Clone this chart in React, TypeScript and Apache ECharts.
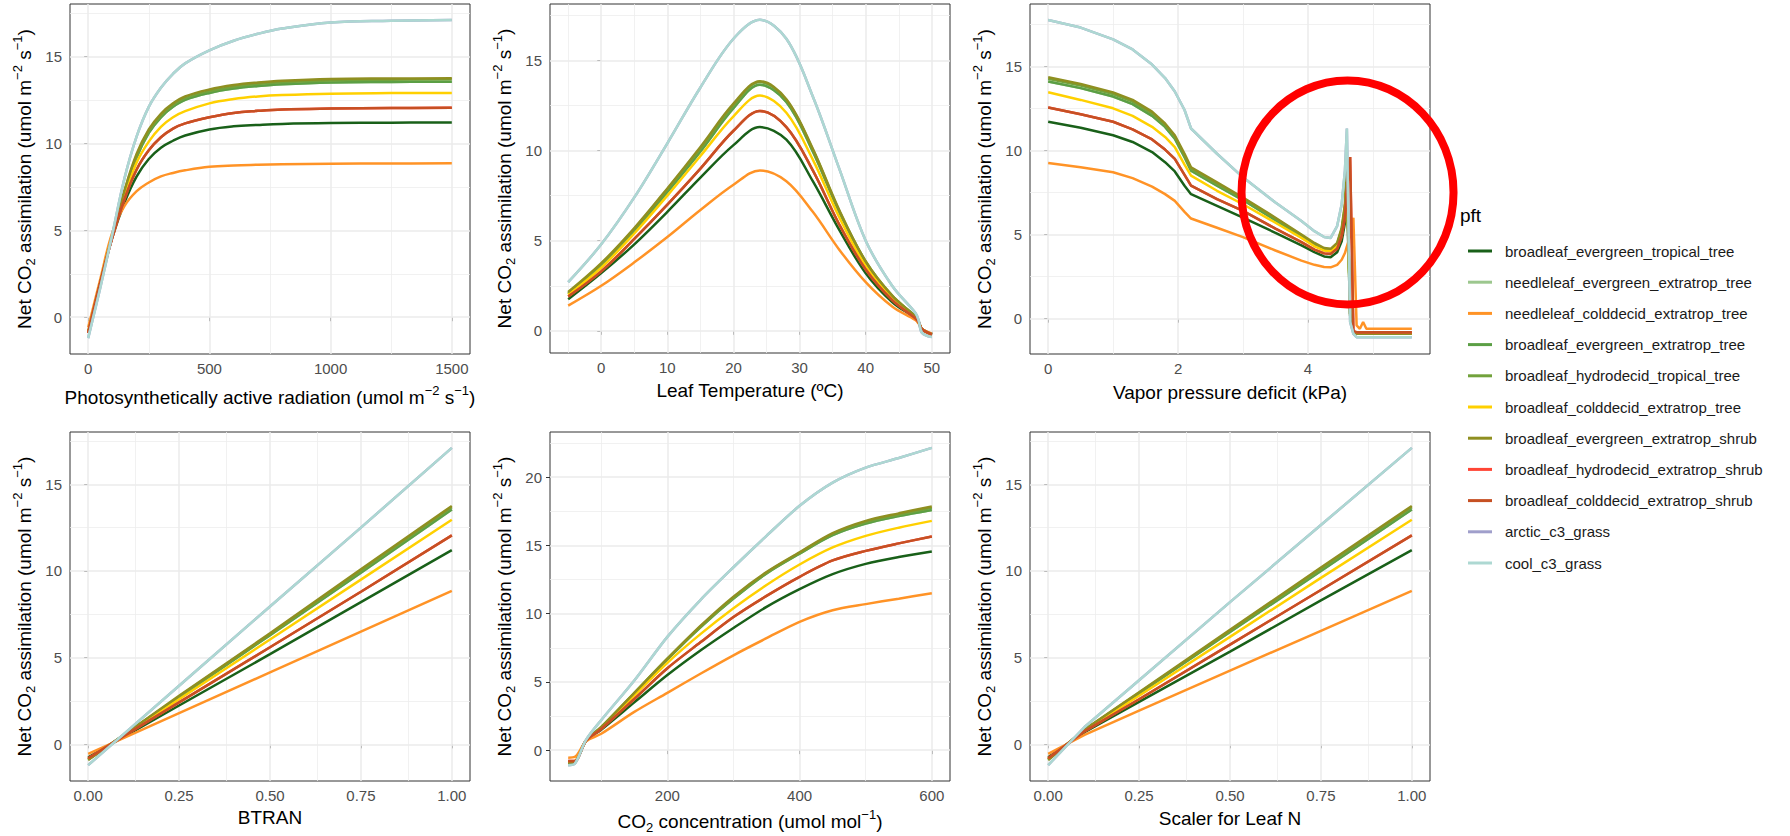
import React, { useEffect, useRef } from "react";
import * as echarts from "echarts";

const FONT = "'Liberation Sans', Arial, Helvetica, sans-serif";

// ---- PFT names and colours (legend order = drawing order) ----
const pftNames = [
  "broadleaf_evergreen_tropical_tree",
  "needleleaf_evergreen_extratrop_tree",
  "needleleaf_colddecid_extratrop_tree",
  "broadleaf_evergreen_extratrop_tree",
  "broadleaf_hydrodecid_tropical_tree",
  "broadleaf_colddecid_extratrop_tree",
  "broadleaf_evergreen_extratrop_shrub",
  "broadleaf_hydrodecid_extratrop_shrub",
  "broadleaf_colddecid_extratrop_shrub",
  "arctic_c3_grass",
  "cool_c3_grass",
];
const pftColors = [
  "#196019", "#9CC78E", "#FF9326", "#5B9F45", "#72A23C", "#FFD000",
  "#8F8F20", "#FF4535", "#C65023", "#A09FCB", "#ADD8D2",
];

// ---- Panel 1: PAR ----
const parX = [0, 50, 100, 150, 200, 250, 300, 350, 400, 500, 600, 700, 800, 1000, 1250, 1500];
const parA = [-0.9, 2.0, 4.6, 6.6, 8.1, 9.1, 9.75, 10.15, 10.45, 10.8, 10.98, 11.06, 11.12, 11.17, 11.19, 11.2];
const parB = [-0.88, 2.0, 4.7, 7.2, 9.2, 10.6, 11.5, 12.1, 12.5, 12.9, 13.15, 13.3, 13.4, 13.5, 13.53, 13.55];
const parC = [-0.6, 2.2, 4.9, 6.4, 7.25, 7.75, 8.1, 8.3, 8.45, 8.65, 8.73, 8.77, 8.8, 8.83, 8.84, 8.85];
const parD = [-0.88, 2.0, 4.7, 7.2, 9.2, 10.6, 11.5, 12.1, 12.5, 12.9, 13.15, 13.3, 13.4, 13.5, 13.53, 13.55];
const parE = [-0.9, 2.0, 4.7, 7.25, 9.3, 10.7, 11.6, 12.2, 12.6, 13.0, 13.25, 13.42, 13.52, 13.62, 13.66, 13.68];
const parF = [-0.9, 2.0, 4.7, 7.0, 8.9, 10.1, 10.95, 11.5, 11.85, 12.3, 12.55, 12.7, 12.78, 12.86, 12.89, 12.9];
const parG = [-0.9, 2.0, 4.7, 7.3, 9.4, 10.8, 11.7, 12.3, 12.7, 13.1, 13.35, 13.5, 13.6, 13.7, 13.73, 13.75];
const parH = [-0.9, 2.0, 4.6, 6.8, 8.5, 9.6, 10.35, 10.85, 11.15, 11.5, 11.75, 11.87, 11.95, 12.0, 12.03, 12.05];
const parI = [-0.9, 2.0, 4.6, 6.8, 8.5, 9.6, 10.35, 10.85, 11.15, 11.5, 11.75, 11.87, 11.95, 12.0, 12.03, 12.05];
const parJ = [-1.2, 1.7, 4.8, 8.0, 10.4, 12.1, 13.2, 14.0, 14.6, 15.35, 15.9, 16.3, 16.6, 16.95, 17.05, 17.1];
const parK = [-1.2, 1.7, 4.8, 8.0, 10.4, 12.1, 13.2, 14.0, 14.6, 15.35, 15.9, 16.3, 16.6, 16.95, 17.05, 17.1];

// ---- Panel 2: Leaf temperature ----
const tX = [-5, 0, 5, 10, 15, 20, 24, 28, 32, 36, 40, 44, 47.5, 48, 48.5, 50];
const tA = [1.75, 3.2, 4.8, 6.6, 8.5, 10.3, 11.3, 10.6, 8.3, 5.6, 3.2, 1.6, 0.7, 0.45, 0.1, -0.2];
const tB = [2.05, 3.65, 5.55, 7.7, 9.95, 12.35, 13.65, 12.7, 9.95, 6.6, 3.8, 1.9, 0.8, 0.5, 0.1, -0.2];
const tC = [1.4, 2.5, 3.8, 5.2, 6.7, 8.1, 8.9, 8.3, 6.6, 4.5, 2.7, 1.35, 0.6, 0.4, 0.1, -0.15];
const tD = [2.05, 3.65, 5.55, 7.7, 9.95, 12.35, 13.65, 12.7, 9.95, 6.6, 3.8, 1.9, 0.8, 0.5, 0.1, -0.2];
const tE = [2.1, 3.7, 5.65, 7.85, 10.1, 12.5, 13.8, 12.8, 10.05, 6.65, 3.85, 1.95, 0.8, 0.5, 0.1, -0.2];
const tF = [2.0, 3.5, 5.4, 7.5, 9.7, 11.9, 13.05, 12.1, 9.5, 6.3, 3.6, 1.8, 0.75, 0.5, 0.1, -0.2];
const tG = [2.15, 3.75, 5.7, 7.9, 10.2, 12.6, 13.85, 12.85, 10.1, 6.7, 3.85, 1.95, 0.8, 0.5, 0.1, -0.2];
const tH = [1.9, 3.3, 5.1, 7.0, 9.0, 11.1, 12.2, 11.3, 8.9, 5.9, 3.4, 1.7, 0.7, 0.5, 0.1, -0.2];
const tI = [1.9, 3.3, 5.1, 7.0, 9.0, 11.1, 12.2, 11.3, 8.9, 5.9, 3.4, 1.7, 0.7, 0.5, 0.1, -0.2];
const tJ = [2.7, 4.8, 7.4, 10.4, 13.5, 16.2, 17.25, 16.2, 13.0, 9.0, 5.0, 2.5, 1.0, 0.6, -0.1, -0.35];
const tK = [2.7, 4.8, 7.4, 10.4, 13.5, 16.2, 17.25, 16.2, 13.0, 9.0, 5.0, 2.5, 1.0, 0.6, -0.1, -0.35];

// ---- Panel 3: Vapor pressure deficit ----
const vX = [0, 0.5, 1, 1.3, 1.6, 1.8, 1.95, 2.1, 2.2, 2.6, 3.0, 3.5, 3.9, 4.1, 4.25, 4.35, 4.45, 4.52, 4.57, 4.6, 4.65, 4.7, 4.75, 4.8, 4.85, 4.9, 5.6];
const vA = [11.7, 11.35, 10.9, 10.5, 9.9, 9.3, 8.75, 7.9, 7.4, 6.7, 6.0, 5.1, 4.35, 3.95, 3.7, 3.65, 3.95, 4.6, 5.7, 7.4, 0.2, -0.8, -0.9, -0.9, -0.9, -0.9, -0.9];
const vB = [14.1, 13.7, 13.2, 12.75, 12.05, 11.4, 10.7, 9.6, 8.8, 7.9, 7.05, 5.85, 4.9, 4.4, 4.1, 4.0, 4.35, 5.2, 6.5, 8.6, 0.3, -0.8, -0.9, -0.9, -0.9, -0.9, -0.9];
const vC = [9.25, 9.0, 8.7, 8.35, 7.85, 7.4, 7.0, 6.35, 5.95, 5.4, 4.85, 4.05, 3.45, 3.2, 3.07, 3.05, 3.2, 3.5, 3.9, 4.3, 4.9, 6.0, -0.4, -0.6, -0.2, -0.6, -0.6];
const vD = [14.1, 13.7, 13.2, 12.75, 12.05, 11.4, 10.7, 9.6, 8.8, 7.9, 7.05, 5.85, 4.9, 4.4, 4.1, 4.0, 4.35, 5.2, 6.5, 8.6, 0.3, -0.8, -0.9, -0.9, -0.9, -0.9, -0.9];
const vE = [14.25, 13.85, 13.35, 12.9, 12.2, 11.5, 10.8, 9.7, 8.9, 8.0, 7.15, 5.95, 4.95, 4.45, 4.15, 4.1, 4.45, 5.3, 6.65, 8.8, 0.3, -0.8, -0.9, -0.9, -0.9, -0.9, -0.9];
const vF = [13.45, 13.0, 12.5, 12.05, 11.4, 10.8, 10.2, 9.15, 8.5, 7.6, 6.8, 5.7, 4.8, 4.3, 4.05, 4.0, 4.3, 5.1, 6.4, 8.3, 0.2, -0.8, -0.9, -0.9, -0.9, -0.9, -0.9];
const vG = [14.35, 13.95, 13.45, 13.0, 12.3, 11.6, 10.9, 9.8, 9.0, 8.1, 7.2, 6.0, 5.0, 4.5, 4.2, 4.15, 4.5, 5.4, 6.8, 8.9, 0.3, -0.8, -0.9, -0.9, -0.9, -0.9, -0.9];
const vH = [12.55, 12.15, 11.7, 11.25, 10.65, 10.05, 9.5, 8.55, 7.9, 7.1, 6.4, 5.35, 4.55, 4.1, 3.88, 3.85, 4.15, 4.9, 6.0, 7.6, 9.6, -0.75, -0.8, -0.8, -0.8, -0.8, -0.8];
const vI = [12.55, 12.15, 11.7, 11.25, 10.65, 10.05, 9.5, 8.55, 7.9, 7.1, 6.4, 5.35, 4.55, 4.1, 3.88, 3.85, 4.15, 4.9, 6.0, 7.6, 9.6, -0.75, -0.8, -0.8, -0.8, -0.8, -0.8];
const vJ = [17.75, 17.3, 16.6, 16.0, 15.1, 14.3, 13.5, 12.4, 11.3, 9.8, 8.4, 6.9, 5.8, 5.2, 4.85, 4.8, 5.5, 6.8, 8.8, 11.3, -0.2, -0.9, -1.1, -1.1, -1.1, -1.1, -1.1];
const vK = [17.75, 17.3, 16.6, 16.0, 15.1, 14.3, 13.5, 12.4, 11.3, 9.8, 8.4, 6.9, 5.8, 5.2, 4.85, 4.8, 5.5, 6.8, 8.8, 11.3, -0.2, -0.9, -1.1, -1.1, -1.1, -1.1, -1.1];

// ---- Panel 4: BTRAN ----
const bX = [0, 0.1, 0.25, 0.5, 0.75, 1];
const bA = [-0.75, 0.45, 2.24, 5.2, 8.2, 11.2];
const bB = [-0.88, 0.56, 2.72, 6.3, 9.9, 13.55];
const bC = [-0.55, 0.39, 1.8, 4.15, 6.5, 8.85];
const bD = [-0.88, 0.56, 2.72, 6.3, 9.9, 13.55];
const bE = [-0.88, 0.57, 2.75, 6.35, 10.0, 13.68];
const bF = [-0.85, 0.53, 2.6, 6.05, 9.5, 12.95];
const bG = [-0.9, 0.57, 2.8, 6.4, 10.1, 13.75];
const bH = [-0.8, 0.5, 2.42, 5.6, 8.8, 12.05];
const bI = [-0.8, 0.5, 2.42, 5.6, 8.8, 12.05];
const bJ = [-1.2, 0.63, 3.38, 7.95, 12.5, 17.1];
const bK = [-1.2, 0.63, 3.38, 7.95, 12.5, 17.1];

// ---- Panel 5: CO2 concentration ----
const cX = [50, 60, 77, 100, 150, 200, 250, 300, 350, 400, 450, 500, 550, 600];
const cA = [-0.9, -0.85, 0.7, 1.5, 3.5, 5.5, 7.3, 8.95, 10.5, 11.8, 12.9, 13.65, 14.15, 14.55];
const cB = [-0.88, -0.85, 0.7, 1.65, 4.15, 6.65, 9.0, 11.1, 12.95, 14.4, 15.75, 16.6, 17.15, 17.6];
const cC = [-0.55, -0.5, 0.65, 1.2, 2.8, 4.2, 5.6, 6.95, 8.2, 9.4, 10.25, 10.7, 11.1, 11.5];
const cD = [-0.88, -0.85, 0.7, 1.65, 4.15, 6.65, 9.0, 11.1, 12.95, 14.4, 15.75, 16.6, 17.15, 17.6];
const cE = [-0.88, -0.85, 0.7, 1.68, 4.18, 6.7, 9.05, 11.15, 13.0, 14.45, 15.85, 16.7, 17.25, 17.75];
const cF = [-0.85, -0.8, 0.7, 1.6, 4.0, 6.4, 8.5, 10.4, 12.1, 13.6, 14.85, 15.7, 16.3, 16.8];
const cG = [-0.9, -0.85, 0.7, 1.7, 4.2, 6.7, 9.1, 11.25, 13.05, 14.5, 15.9, 16.8, 17.35, 17.85];
const cH = [-0.8, -0.8, 0.7, 1.55, 3.75, 6.0, 7.9, 9.75, 11.3, 12.7, 13.9, 14.6, 15.15, 15.65];
const cI = [-0.8, -0.8, 0.7, 1.55, 3.75, 6.0, 7.9, 9.75, 11.3, 12.7, 13.9, 14.6, 15.15, 15.65];
const cJ = [-1.1, -1.0, 0.75, 2.2, 5.1, 8.3, 11.0, 13.4, 15.7, 17.9, 19.6, 20.7, 21.4, 22.15];
const cK = [-1.1, -1.0, 0.75, 2.2, 5.1, 8.3, 11.0, 13.4, 15.7, 17.9, 19.6, 20.7, 21.4, 22.15];

// ---- Panel 6: Scaler for Leaf N ----
const nX = [0, 0.1, 0.25, 0.5, 0.75, 1];
const nA = [-0.75, 0.7, 2.45, 5.35, 8.3, 11.2];
const nB = [-0.88, 0.83, 2.93, 6.48, 10.0, 13.55];
const nC = [-0.55, 0.55, 1.95, 4.25, 6.55, 8.85];
const nD = [-0.88, 0.83, 2.93, 6.48, 10.0, 13.55];
const nE = [-0.88, 0.84, 2.97, 6.55, 10.1, 13.68];
const nF = [-0.85, 0.8, 2.8, 6.2, 9.6, 12.95];
const nG = [-0.9, 0.85, 3.0, 6.6, 10.2, 13.75];
const nH = [-0.8, 0.75, 2.6, 5.75, 8.9, 12.05];
const nI = [-0.8, 0.75, 2.6, 5.75, 8.9, 12.05];
const nJ = [-1.2, 1.0, 3.7, 8.2, 12.65, 17.1];
const nK = [-1.2, 1.0, 3.7, 8.2, 12.65, 17.1];

// ---- Tick / grid-line values ----
const parTicks = [0, 500, 1000, 1500];
const parMinor = [250, 750, 1250];
const tTicks = [0, 10, 20, 30, 40, 50];
const tMinor = [-5, 5, 15, 25, 35, 45];
const vTicks = [0, 2, 4];
const vMinor = [1, 3, 5];
const fracTicks = [0, 0.25, 0.5, 0.75, 1];
const fracMinor = [0.125, 0.375, 0.625, 0.875];
const cTicks = [200, 400, 600];
const cMinor = [100, 300, 500];
const yTicks = [0, 5, 10, 15];
const yMinor = [2.5, 7.5, 12.5, 17.5];
const yTicksCO2 = [0, 5, 10, 15, 20];
const yMinorCO2 = [2.5, 7.5, 12.5, 17.5, 22.5];

const Y_NAME = "{a|Net CO}{b|2}{a| assimilation (umol m}{p|\u22122}{a| s}{p|\u22121}{a|)}";

const RICH = {
  a: { fontSize: 19, lineHeight: 26, color: "#000", fontFamily: FONT },
  b: { fontSize: 13, lineHeight: 14, verticalAlign: "bottom", color: "#000", fontFamily: FONT },
  p: { fontSize: 13, lineHeight: 14, verticalAlign: "top", color: "#000", fontFamily: FONT },
};

const panels = [
  {
    grid: { left: 70, top: 4, width: 400, height: 350 },
    x: parX, ys: [parA, parB, parC, parD, parE, parF, parG, parH, parI, parJ, parK],
    xMin: -75, xMax: 1575, yMin: -2.115, yMax: 18.015,
    xTicks: parTicks, xMinor: parMinor, yTicks: yTicks, yMinor: yMinor,
    xName: "{a|Photosynthetically active radiation (umol m}{p|\u22122}{a| s}{p|\u22121}{a|)}",
    xGap: 30, smooth: 0.4, fmt: (v: number) => String(v),
  },
  {
    grid: { left: 550, top: 4, width: 400, height: 349 },
    x: tX, ys: [tA, tB, tC, tD, tE, tF, tG, tH, tI, tJ, tK],
    xMin: -7.75, xMax: 52.75, yMin: -1.23, yMax: 18.13,
    xTicks: tTicks, xMinor: tMinor, yTicks: yTicks, yMinor: yMinor,
    xName: "{a|Leaf Temperature (\u00BAC)}",
    xGap: 24, smooth: 0.35, fmt: (v: number) => String(v),
  },
  {
    grid: { left: 1030, top: 4, width: 400, height: 350 },
    x: vX, ys: [vA, vB, vC, vD, vE, vF, vG, vH, vI, vJ, vK],
    xMin: -0.28, xMax: 5.88, yMin: -2.1, yMax: 18.7,
    xTicks: vTicks, xMinor: vMinor, yTicks: yTicks, yMinor: yMinor,
    xName: "{a|Vapor pressure deficit (kPa)}",
    xGap: 25, smooth: false, fmt: (v: number) => String(v),
  },
  {
    grid: { left: 70, top: 432, width: 400, height: 349 },
    x: bX, ys: [bA, bB, bC, bD, bE, bF, bG, bH, bI, bJ, bK],
    xMin: -0.05, xMax: 1.05, yMin: -2.115, yMax: 18.015,
    xTicks: fracTicks, xMinor: fracMinor, yTicks: yTicks, yMinor: yMinor,
    xName: "{a|BTRAN}",
    xGap: 23, smooth: false, fmt: (v: number) => v.toFixed(2),
  },
  {
    grid: { left: 550, top: 432, width: 400, height: 349 },
    x: cX, ys: [cA, cB, cC, cD, cE, cF, cG, cH, cI, cJ, cK],
    xMin: 22.5, xMax: 627.5, yMin: -2.26, yMax: 23.31,
    xTicks: cTicks, xMinor: cMinor, yTicks: yTicksCO2, yMinor: yMinorCO2,
    xName: "{a|CO}{b|2}{a| concentration (umol mol}{p|\u22121}{a|)}",
    xGap: 27, smooth: 0.3, fmt: (v: number) => String(v),
  },
  {
    grid: { left: 1030, top: 432, width: 400, height: 349 },
    x: nX, ys: [nA, nB, nC, nD, nE, nF, nG, nH, nI, nJ, nK],
    xMin: -0.05, xMax: 1.05, yMin: -2.115, yMax: 18.015,
    xTicks: fracTicks, xMinor: fracMinor, yTicks: yTicks, yMinor: yMinor,
    xName: "{a|Scaler for Leaf N}",
    xGap: 24, smooth: false, fmt: (v: number) => v.toFixed(2),
  },
];

function buildOption() {
  const grid: any[] = [];
  const xAxis: any[] = [];
  const yAxis: any[] = [];
  const series: any[] = [];
  const major = { color: "#EBEBEB", width: 1.5, type: "solid" };
  const minor = { color: "#EDEDED", width: 0.8, type: "solid" };

  panels.forEach((p, i) => {
    grid.push({ ...p.grid, show: true, borderColor: "#333333", borderWidth: 1, backgroundColor: "transparent", containLabel: false });
    xAxis.push({
      type: "value", gridIndex: i, min: p.xMin, max: p.xMax,
      axisLine: { show: false },
      axisTick: { show: true, customValues: p.xTicks, length: 4, lineStyle: { color: "#333333", width: 1 } },
      axisLabel: { customValues: p.xTicks, fontSize: 15, color: "#4D4D4D", margin: 7, fontFamily: FONT, formatter: p.fmt },
      splitLine: { show: false },
      name: p.xName, nameLocation: "middle", nameGap: p.xGap,
      nameTextStyle: { fontSize: 19, lineHeight: 26, color: "#000", fontFamily: FONT, rich: RICH },
    });
    yAxis.push({
      type: "value", gridIndex: i, min: p.yMin, max: p.yMax,
      axisLine: { show: false },
      axisTick: { show: true, customValues: p.yTicks, length: 4, lineStyle: { color: "#333333", width: 1 } },
      axisLabel: { customValues: p.yTicks, fontSize: 15, color: "#4D4D4D", margin: 8, fontFamily: FONT },
      splitLine: { show: false },
      name: Y_NAME, nameLocation: "middle", nameGap: 33,
      nameTextStyle: { fontSize: 19, lineHeight: 26, color: "#000", fontFamily: FONT, rich: RICH },
    });
    // grid lines through the axes' own scales
    series.push({
      type: "line", xAxisIndex: i, yAxisIndex: i, data: [], silent: true, z: 1,
      markLine: {
        silent: true, z: 1, symbol: ["none", "none"], animation: false,
        label: { show: false }, emphasis: { disabled: true },
        data: [
          ...p.xMinor.map((v) => ({ xAxis: v, lineStyle: minor })),
          ...p.yMinor.map((v) => ({ yAxis: v, lineStyle: minor })),
          ...p.xTicks.map((v) => ({ xAxis: v, lineStyle: major })),
          ...p.yTicks.map((v) => ({ yAxis: v, lineStyle: major })),
        ],
      },
    });
    p.ys.forEach((ys, k) => {
      series.push({
        type: "line", name: pftNames[k], xAxisIndex: i, yAxisIndex: i,
        data: p.x.map((x, j) => [x, ys[j]]),
        showSymbol: false, symbol: "none", smooth: p.smooth, z: 3 + k * 0.01,
        color: pftColors[k],
        itemStyle: { color: pftColors[k] },
        lineStyle: { color: pftColors[k], width: 2.5 },
        emphasis: { disabled: true }, silent: true,
      });
    });
  });

  return {
    animation: false,
    backgroundColor: "#FFFFFF",
    textStyle: { fontFamily: FONT },
    grid, xAxis, yAxis, series,
    legend: {
      data: pftNames, orient: "vertical", left: 1463, top: 236,
      icon: "rect", itemWidth: 24, itemHeight: 3, itemGap: 11.2,
      selectedMode: false,
      textStyle: { fontSize: 15, lineHeight: 20, color: "#1A1A1A", fontFamily: FONT, padding: [0, 0, 0, 8] },
    },
  };
}

export default function App() {
  const ref = useRef<HTMLDivElement>(null);
  useEffect(() => {
    if (!ref.current) return;
    const chart = echarts.init(ref.current, null, { renderer: "svg" });
    chart.setOption(buildOption() as any);
    const c = chart.convertToPixel({ gridIndex: 2 } as any, [4.61, 7.5]) as number[];
    chart.setOption({
      graphic: [
        { type: "text", left: 1460, top: 206, style: { text: "pft", fontSize: 19, fill: "#000", fontFamily: FONT } },
        {
          type: "ellipse", z: 100, silent: true,
          shape: { cx: c[0], cy: c[1], rx: 106, ry: 112 },
          style: { fill: "none", stroke: "#FF0000", lineWidth: 8 },
        },
      ],
    } as any);
    return () => chart.dispose();
  }, []);
  return (
    <div
      ref={ref}
      style={{ position: "fixed", left: 0, top: 0, width: 1790, height: 836, background: "#fff" }}
    />
  );
}
